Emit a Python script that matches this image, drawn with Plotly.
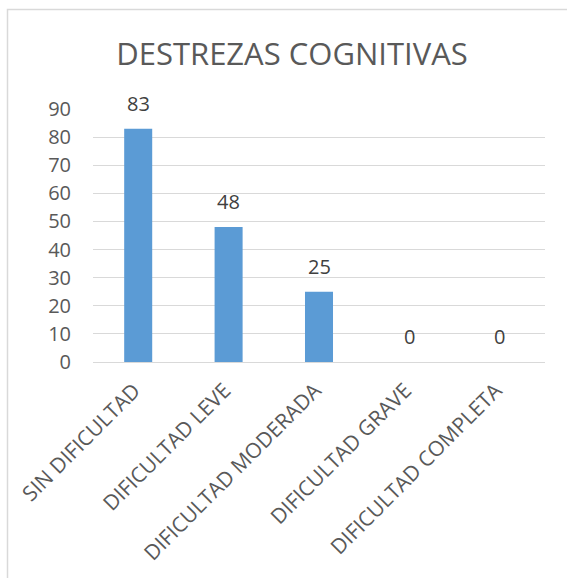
import plotly.graph_objects as go

categories = ["SIN DIFICULTAD", "DIFICULTAD LEVE", "DIFICULTAD MODERADA",
              "DIFICULTAD GRAVE", "DIFICULTAD COMPLETA"]
values = [83, 48, 25, 0, 0]
y_ticks = [0, 10, 20, 30, 40, 50, 60, 70, 80, 90]
title_text = "DESTREZAS COGNITIVAS"

W, H = 567, 578
L, R, T, B = 93, 22, 109, 216
pw, ph = W - L - R, H - T - B

def px_x(p):
    return (p - L) / pw

def px_y(p):
    return (H - B - p) / ph

fig = go.Figure(go.Bar(
    x=categories, y=values,
    marker=dict(color="#5B9BD5", line=dict(width=0)),
    cliponaxis=False,
))

for c, v in zip(categories, values):
    fig.add_annotation(x=c, y=v, text=str(v), showarrow=False,
                       yanchor="bottom", yshift=10,
                       font=dict(family="Open Sans", size=20, color="#404040"))

fig.update_layout(
    width=W, height=H,
    margin=dict(l=L, r=R, t=T, b=B, autoexpand=False),
    paper_bgcolor="white", plot_bgcolor="white",
    showlegend=False, bargap=0.69,
    font=dict(family="Open Sans", color="#595959"),
    title=dict(text=title_text, x=px_x(292), xref="paper", xanchor="center",
               y=1 - 54 / H, yanchor="middle",
               font=dict(family="Open Sans", size=31, color="#595959")),
    xaxis=dict(tickangle=-45, tickfont=dict(size=21, color="#595959"),
               showgrid=False, showline=True, linecolor="#D9D9D9", linewidth=1,
               ticks="", ticklabelshift=-4, ticklabelstandoff=7),
    yaxis=dict(range=[0, 90], tickvals=y_ticks, showgrid=True, gridcolor="#D9D9D9",
               gridwidth=1, zeroline=False, showline=False, ticks="",
               tickfont=dict(size=20, color="#595959"), ticklabelstandoff=21),
    shapes=[dict(type="rect", xref="paper", yref="paper",
                 x0=px_x(7.5), x1=px_x(620), y0=px_y(620), y1=px_y(9.5),
                 line=dict(color="#D9D9D9", width=1.5), fillcolor="rgba(0,0,0,0)",
                 layer="below")],
)

fig.write_html("out.html", config={"displayModeBar": False},
               post_script="document.body.style.margin='0';document.body.style.overflow='hidden';")
